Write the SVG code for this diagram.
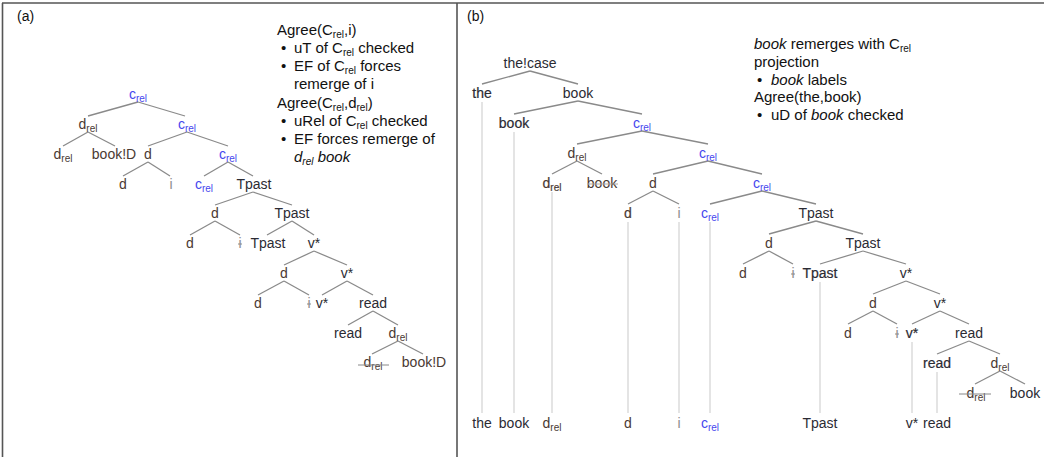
<svg xmlns="http://www.w3.org/2000/svg" width="1047" height="457" viewBox="0 0 1047 457">
<style>
text{font-family:"Liberation Sans",Arial,sans-serif;font-size:14px;text-anchor:middle;fill:#2b2b33}
.note{font-size:15px;text-anchor:start;fill:#111}
.note .s{font-size:10px}
.panel{font-size:14px;text-anchor:start;fill:#111}
.c{fill:#4646ee}
.d{fill:#4a3a33}
.i{fill:#8c8c8c}
.s{font-size:10px}
.heavy{stroke:#2b2b33;stroke-width:0.2}
.dh{stroke:#4a3a33;stroke-width:0.2}
.edge{stroke:#8a8a8a;stroke-width:1.3;fill:none}
.trace{stroke:#dedede;stroke-width:1.6;fill:none}
.strike{stroke:#888;stroke-width:1;fill:none}
.frame{stroke:#555;stroke-width:1.6;fill:none}
</style>
<rect width="1047" height="457" fill="#fff"/>
<g id="frame">
<line class="frame" x1="2" y1="3" x2="1044" y2="3"/>
<line class="frame" x1="2.5" y1="3" x2="2.5" y2="457"/>
<line class="frame" x1="457" y1="3" x2="457" y2="457"/>
</g>
<text class="panel" x="17" y="21">(a)</text>
<text class="panel" x="467" y="21">(b)</text>

<g id="notes-a">
<text class="note" x="277" y="35">Agree(C<tspan class="s" dy="3">rel</tspan><tspan dy="-3">,i)</tspan></text>
<text class="note" x="281" y="53">•</text>
<text class="note" x="294" y="53">uT of C<tspan class="s" dy="3">rel</tspan><tspan dy="-3"> checked</tspan></text>
<text class="note" x="281" y="71">•</text>
<text class="note" x="294" y="71">EF of C<tspan class="s" dy="3">rel</tspan><tspan dy="-3"> forces</tspan></text>
<text class="note" x="294" y="89">remerge of i</text>
<text class="note" x="277" y="108">Agree(C<tspan class="s" dy="3">rel</tspan><tspan dy="-3">,d</tspan><tspan class="s" dy="3">rel</tspan><tspan dy="-3">)</tspan></text>
<text class="note" x="281" y="126">•</text>
<text class="note" x="294" y="126">uRel of C<tspan class="s" dy="3">rel</tspan><tspan dy="-3"> checked</tspan></text>
<text class="note" x="281" y="144">•</text>
<text class="note" x="294" y="144">EF forces remerge of</text>
<text class="note" x="294" y="162" font-style="italic">d<tspan class="s" dy="3">rel</tspan><tspan dy="-3"> book</tspan></text>
</g>

<g id="notes-b">
<text class="note" x="754" y="49"><tspan font-style="italic">book</tspan> remerges with C<tspan class="s" dy="3">rel</tspan></text>
<text class="note" x="754" y="66.5">projection</text>
<text class="note" x="757" y="84.5">•</text>
<text class="note" x="771" y="84.5"><tspan font-style="italic">book</tspan> labels</text>
<text class="note" x="754" y="102">Agree(the,book)</text>
<text class="note" x="757" y="120">•</text>
<text class="note" x="771" y="120">uD of <tspan font-style="italic">book</tspan> checked</text>
</g>

<g id="connectors">
<line class="edge" x1="138" y1="102" x2="88" y2="116"/>
<line class="edge" x1="138" y1="102" x2="185" y2="116"/>
<line class="edge" x1="88" y1="132" x2="63" y2="146"/>
<line class="edge" x1="88" y1="132" x2="115" y2="146"/>
<line class="edge" x1="187" y1="132" x2="148" y2="146"/>
<line class="edge" x1="187" y1="132" x2="228" y2="146"/>
<line class="edge" x1="148" y1="162" x2="123" y2="176"/>
<line class="edge" x1="148" y1="162" x2="170" y2="176"/>
<line class="edge" x1="228" y1="162" x2="204" y2="176"/>
<line class="edge" x1="228" y1="162" x2="253" y2="176"/>
<line class="edge" x1="253" y1="192" x2="215" y2="205"/>
<line class="edge" x1="253" y1="192" x2="292" y2="205"/>
<line class="edge" x1="215" y1="221" x2="190" y2="235"/>
<line class="edge" x1="215" y1="221" x2="240" y2="235"/>
<line class="edge" x1="292" y1="221" x2="267" y2="235"/>
<line class="edge" x1="292" y1="221" x2="314" y2="235"/>
<line class="edge" x1="314" y1="251" x2="284" y2="265"/>
<line class="edge" x1="314" y1="251" x2="347" y2="265"/>
<line class="edge" x1="284" y1="281" x2="258" y2="295"/>
<line class="edge" x1="284" y1="281" x2="309" y2="295"/>
<line class="edge" x1="347" y1="281" x2="322" y2="295"/>
<line class="edge" x1="347" y1="281" x2="373" y2="295"/>
<line class="edge" x1="373" y1="311" x2="348" y2="325"/>
<line class="edge" x1="373" y1="311" x2="398" y2="325"/>
<line class="edge" x1="398" y1="341" x2="372" y2="354"/>
<line class="edge" x1="398" y1="341" x2="423" y2="354"/>
<line class="trace" x1="482" y1="102" x2="482" y2="413"/>
<line class="trace" x1="514" y1="132" x2="514" y2="413"/>
<line class="trace" x1="552" y1="192" x2="552" y2="413"/>
<line class="trace" x1="628" y1="222" x2="628" y2="413"/>
<line class="trace" x1="679" y1="222" x2="679" y2="413"/>
<line class="trace" x1="710" y1="222" x2="710" y2="413"/>
<line class="trace" x1="820" y1="282" x2="820" y2="413"/>
<line class="trace" x1="912" y1="342" x2="912" y2="413"/>
<line class="trace" x1="937" y1="372" x2="937" y2="413"/>
<line class="edge" x1="530" y1="71" x2="482" y2="84"/>
<line class="edge" x1="530" y1="71" x2="578" y2="84"/>
<line class="edge" x1="578" y1="101" x2="514" y2="114"/>
<line class="edge" x1="578" y1="101" x2="642" y2="114"/>
<line class="edge" x1="642" y1="131" x2="577" y2="144"/>
<line class="edge" x1="642" y1="131" x2="708" y2="144"/>
<line class="edge" x1="577" y1="161" x2="552" y2="174"/>
<line class="edge" x1="577" y1="161" x2="602" y2="174"/>
<line class="edge" x1="708" y1="161" x2="653" y2="174"/>
<line class="edge" x1="708" y1="161" x2="762" y2="174"/>
<line class="edge" x1="653" y1="191" x2="628" y2="204"/>
<line class="edge" x1="653" y1="191" x2="679" y2="204"/>
<line class="edge" x1="762" y1="191" x2="710" y2="204"/>
<line class="edge" x1="762" y1="191" x2="816" y2="204"/>
<line class="edge" x1="816" y1="221" x2="769" y2="234"/>
<line class="edge" x1="816" y1="221" x2="863" y2="234"/>
<line class="edge" x1="769" y1="251" x2="743" y2="264"/>
<line class="edge" x1="769" y1="251" x2="793" y2="264"/>
<line class="edge" x1="863" y1="251" x2="820" y2="264"/>
<line class="edge" x1="863" y1="251" x2="906" y2="264"/>
<line class="edge" x1="906" y1="281" x2="873" y2="294"/>
<line class="edge" x1="906" y1="281" x2="940" y2="294"/>
<line class="edge" x1="873" y1="311" x2="848" y2="324"/>
<line class="edge" x1="873" y1="311" x2="897" y2="324"/>
<line class="edge" x1="940" y1="311" x2="912" y2="324"/>
<line class="edge" x1="940" y1="311" x2="969" y2="324"/>
<line class="edge" x1="969" y1="341" x2="937" y2="354"/>
<line class="edge" x1="969" y1="341" x2="1000" y2="354"/>
<line class="edge" x1="1000" y1="371" x2="975" y2="384"/>
<line class="edge" x1="1000" y1="371" x2="1025" y2="384"/>
</g>

<g id="a1"><text class="c" x="138" y="99">c<tspan class="s" dy="3">rel</tspan></text></g>
<g id="a2"><text class="d" x="88" y="129">d<tspan class="s" dy="3">rel</tspan></text></g>
<g id="a3"><text class="c" x="187" y="129">c<tspan class="s" dy="3">rel</tspan></text></g>
<g id="a4"><text class="d" x="63" y="159">d<tspan class="s" dy="3">rel</tspan></text></g>
<g id="a5"><text class="d" x="114" y="159">book!D</text></g>
<g id="a6"><text class="d" x="148" y="159">d</text></g>
<g id="a7"><text class="c" x="228" y="159">c<tspan class="s" dy="3">rel</tspan></text></g>
<g id="a8"><text class="d" x="123" y="189">d</text></g>
<g id="a9"><text class="i" x="171" y="189">i</text></g>
<g id="a10"><text class="c" x="204" y="189">c<tspan class="s" dy="3">rel</tspan></text></g>
<g id="a11"><text x="254" y="189">Tpast</text></g>
<g id="a12"><text class="d" x="215" y="218">d</text></g>
<g id="a13"><text x="292" y="218">Tpast</text></g>
<g id="a14"><text class="d" x="190" y="248">d</text></g>
<g id="a15"><text class="i" x="240" y="248">i</text><line class="strike" x1="238" y1="244" x2="242" y2="244"/></g>
<g id="a16"><text x="268" y="248">Tpast</text></g>
<g id="a17"><text x="314" y="248">v*</text></g>
<g id="a18"><text class="d" x="284" y="278">d</text></g>
<g id="a19"><text x="347" y="278">v*</text></g>
<g id="a20"><text class="d" x="258" y="308">d</text></g>
<g id="a21"><text class="i" x="309" y="308">i</text><line class="strike" x1="307" y1="304" x2="311" y2="304"/></g>
<g id="a22"><text x="322" y="308">v*</text></g>
<g id="a23"><text x="373" y="308">read</text></g>
<g id="a24"><text x="348" y="338">read</text></g>
<g id="a25"><text class="d" x="398" y="338">d<tspan class="s" dy="3">rel</tspan></text></g>
<g id="a26"><text class="d" x="373" y="367">d<tspan class="s" dy="3">rel</tspan></text><line class="strike" x1="358" y1="365" x2="389" y2="365"/></g>
<g id="a27"><text class="d" x="424" y="367">book!D</text></g>

<g id="b1"><text x="530" y="68">the!case</text></g>
<g id="b2"><text class="heavy" x="482" y="98">the</text></g>
<g id="b3"><text x="578" y="98">book</text></g>
<g id="b4"><text class="heavy" x="514" y="128">book</text></g>
<g id="b5"><text class="c" x="642" y="128">c<tspan class="s" dy="3">rel</tspan></text></g>
<g id="b6"><text class="d" x="577" y="158">d<tspan class="s" dy="3">rel</tspan></text></g>
<g id="b7"><text class="c" x="708" y="158">c<tspan class="s" dy="3">rel</tspan></text></g>
<g id="b8"><text class="d dh" x="552" y="188">d<tspan class="s" dy="3">rel</tspan></text></g>
<g id="b9"><text class="d" x="602" y="188">book</text><line class="strike" x1="587" y1="184" x2="618" y2="184" style="stroke:#b0a8a0"/></g>
<g id="b10"><text class="d" x="653" y="188">d</text></g>
<g id="b11"><text class="c" x="762" y="188">c<tspan class="s" dy="3">rel</tspan></text></g>
<g id="b12"><text class="d dh" x="628" y="218">d</text></g>
<g id="b13"><text class="i" x="679" y="218">i</text></g>
<g id="b14"><text class="c" x="710" y="218">c<tspan class="s" dy="3">rel</tspan></text></g>
<g id="b15"><text x="816" y="218">Tpast</text></g>
<g id="b16"><text class="d" x="769" y="248">d</text></g>
<g id="b17"><text x="863" y="248">Tpast</text></g>
<g id="b18"><text class="d" x="743" y="278">d</text></g>
<g id="b19"><text class="i" x="793" y="278">i</text><line class="strike" x1="791" y1="274" x2="795" y2="274"/></g>
<g id="b20"><text class="heavy" x="820" y="278">Tpast</text></g>
<g id="b21"><text x="906" y="278">v*</text></g>
<g id="b22"><text class="d" x="873" y="308">d</text></g>
<g id="b23"><text x="940" y="308">v*</text></g>
<g id="b24"><text class="d" x="848" y="338">d</text></g>
<g id="b25"><text class="i" x="897" y="338">i</text><line class="strike" x1="895" y1="334" x2="899" y2="334"/></g>
<g id="b26"><text class="heavy" x="912" y="338">v*</text></g>
<g id="b27"><text x="969" y="338">read</text></g>
<g id="b28"><text class="heavy" x="937" y="368">read</text></g>
<g id="b29"><text class="d" x="1000" y="368">d<tspan class="s" dy="3">rel</tspan></text></g>
<g id="b30"><text class="d" x="976" y="398">d<tspan class="s" dy="3">rel</tspan></text><line class="strike" x1="959" y1="394" x2="991" y2="394"/></g>
<g id="b31"><text x="1025" y="398">book</text></g>

<g id="b32"><text x="482" y="428">the</text></g>
<g id="b33"><text x="514" y="428">book</text></g>
<g id="b34"><text class="d" x="552" y="428">d<tspan class="s" dy="3">rel</tspan></text></g>
<g id="b35"><text class="d" x="628" y="428">d</text></g>
<g id="b36"><text class="i" x="679" y="428">i</text></g>
<g id="b37"><text class="c" x="710" y="428">c<tspan class="s" dy="3">rel</tspan></text></g>
<g id="b38"><text x="820" y="428">Tpast</text></g>
<g id="b39"><text x="912" y="428">v*</text></g>
<g id="b40"><text x="937" y="428">read</text></g>
</svg>
